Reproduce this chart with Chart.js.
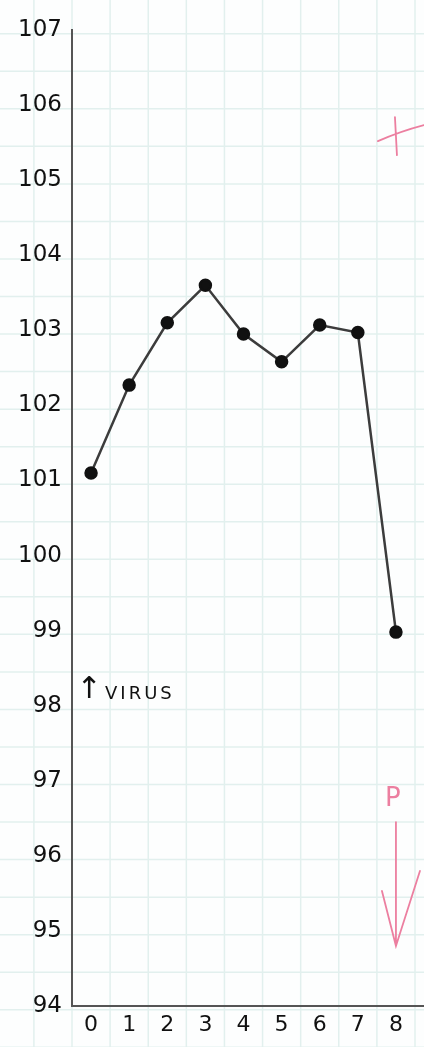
<!DOCTYPE html>
<html>
<head>
<meta charset="utf-8">
<script src="https://cdn.jsdelivr.net/npm/chart.js@4"></script>
<style>
  html, body { margin: 0; padding: 0; background: #fdfefe; }
  #wrap { width: 424px; height: 1047px; position: relative; }
</style>
</head>
<body>
<div id="wrap"><canvas id="temp-chart"></canvas></div>
<script>
let days = ['0', '1', '2', '3', '4', '5', '6', '7', '8'];
let temps = [101.1, 102.27, 103.1, 103.6, 102.95, 102.58, 103.07, 102.97, 98.98];
let yTicks = [94, 95, 96, 97, 98, 99, 100, 101, 102, 103, 104, 105, 106, 107];

// graph paper behind everything, lined up with the scales
const paper = {
    id: 'paper',
    beforeDraw(chart) {
        const ctx = chart.ctx, x = chart.scales.x, y = chart.scales.y;
        const w = chart.width, h = chart.height;
        ctx.save();
        ctx.fillStyle = '#fdfefe';
        ctx.fillRect(0, 0, w, h);
        ctx.strokeStyle = '#e2f0ee';
        ctx.lineWidth = 1.5;
        const cw = (x.right - x.left) / days.length;
        for (let px = x.left - cw * 3; px < w + cw; px += cw) {
            ctx.beginPath();
            ctx.moveTo(px, 0);
            ctx.lineTo(px, h);
            ctx.stroke();
        }
        for (let v = 90; v < 110; v += 0.5) {
            let py = y.getPixelForValue(v - 0.05);
            if (py < -2 || py > h + 2) continue;
            ctx.beginPath();
            ctx.moveTo(0, py);
            ctx.lineTo(w, py);
            ctx.stroke();
        }
        ctx.restore();
    }
};

// handwritten notes on the sheet
const notes = {
    id: 'notes',
    afterDatasetsDraw(chart) {
        const ctx = chart.ctx, x = chart.scales.x, y = chart.scales.y;
        ctx.save();
        // x axis runs on to the edge of the sheet
        ctx.strokeStyle = '#555';
        ctx.lineWidth = 2;
        ctx.beginPath();
        ctx.moveTo(x.right - 3, x.top);
        ctx.lineTo(chart.width, x.top);
        ctx.stroke();

        // ↑ VIRUS
        ctx.fillStyle = '#111';
        ctx.textBaseline = 'middle';
        ctx.textAlign = 'center';
        ctx.font = '30px "DejaVu Sans"';
        ctx.fillText('↑', x.getPixelForValue(0) - 2, y.getPixelForValue(98.2));
        ctx.textAlign = 'left';
        ctx.font = '18px "DejaVu Sans"';
        ctx.letterSpacing = '3px';
        ctx.fillText('VIRUS', x.getPixelForValue(0) + 14, y.getPixelForValue(98.15));
        ctx.letterSpacing = '0px';

        // pink marks
        const px = x.getPixelForValue(8);
        ctx.strokeStyle = '#ec7fa0';
        ctx.fillStyle = '#ec7fa0';
        ctx.lineWidth = 1.8;
        ctx.lineCap = 'round';
        let p = y.getPixelForValue(105.6);
        ctx.beginPath();
        ctx.moveTo(px - 18, p + 6); ctx.quadraticCurveTo(px + 5, p - 4, px + 28, p - 10);
        ctx.moveTo(px - 1, p - 18); ctx.lineTo(px + 1, p + 20);
        ctx.stroke();

        ctx.textAlign = 'center';
        ctx.font = '26px "DejaVu Sans"';
        ctx.fillText('P', px - 3, y.getPixelForValue(96.75));
        let top = y.getPixelForValue(96.45), tip = y.getPixelForValue(94.8);
        ctx.beginPath();
        ctx.moveTo(px, top); ctx.lineTo(px, tip);
        ctx.moveTo(px - 14, tip - 55); ctx.lineTo(px, tip);
        ctx.lineTo(px + 24, tip - 75);
        ctx.stroke();
        ctx.restore();
    }
};

new Chart('temp-chart', {
    type: 'line',
    data: {
        labels: days,
        datasets: [
            {
                data: temps,
                borderColor: '#3c3c3c',
                borderWidth: 2.5,
                pointRadius: 5.5,
                pointBackgroundColor: '#111',
                pointBorderColor: '#111',
                tension: 0
            }
        ]
    },
    options: {
        responsive: true,
        maintainAspectRatio: false,
        animation: false,
        layout: { padding: { top: 30, right: 9, left: 0, bottom: 0 } },
        plugins: { legend: { display: false }, tooltip: { enabled: false } },
        scales: {
            x: {
                offset: true,
                grid: { display: false, drawTicks: false },
                border: { color: '#555', width: 2 },
                ticks: { color: '#111', font: { family: 'DejaVu Sans', size: 22 }, padding: 6 },
                afterFit(s) { s.height = 41; }
            },
            y: {
                min: 94,
                max: 107,
                grid: { display: false, drawTicks: false },
                border: { color: '#555', width: 2 },
                ticks: { color: '#111', font: { family: 'DejaVu Sans', size: 23 }, padding: 10 },
                afterBuildTicks(s) { s.ticks = yTicks.map(v => ({ value: v })); },
                afterFit(s) { s.width = 72; }
            }
        }
    },
    plugins: [paper, notes]
});
</script>
</body>
</html>
